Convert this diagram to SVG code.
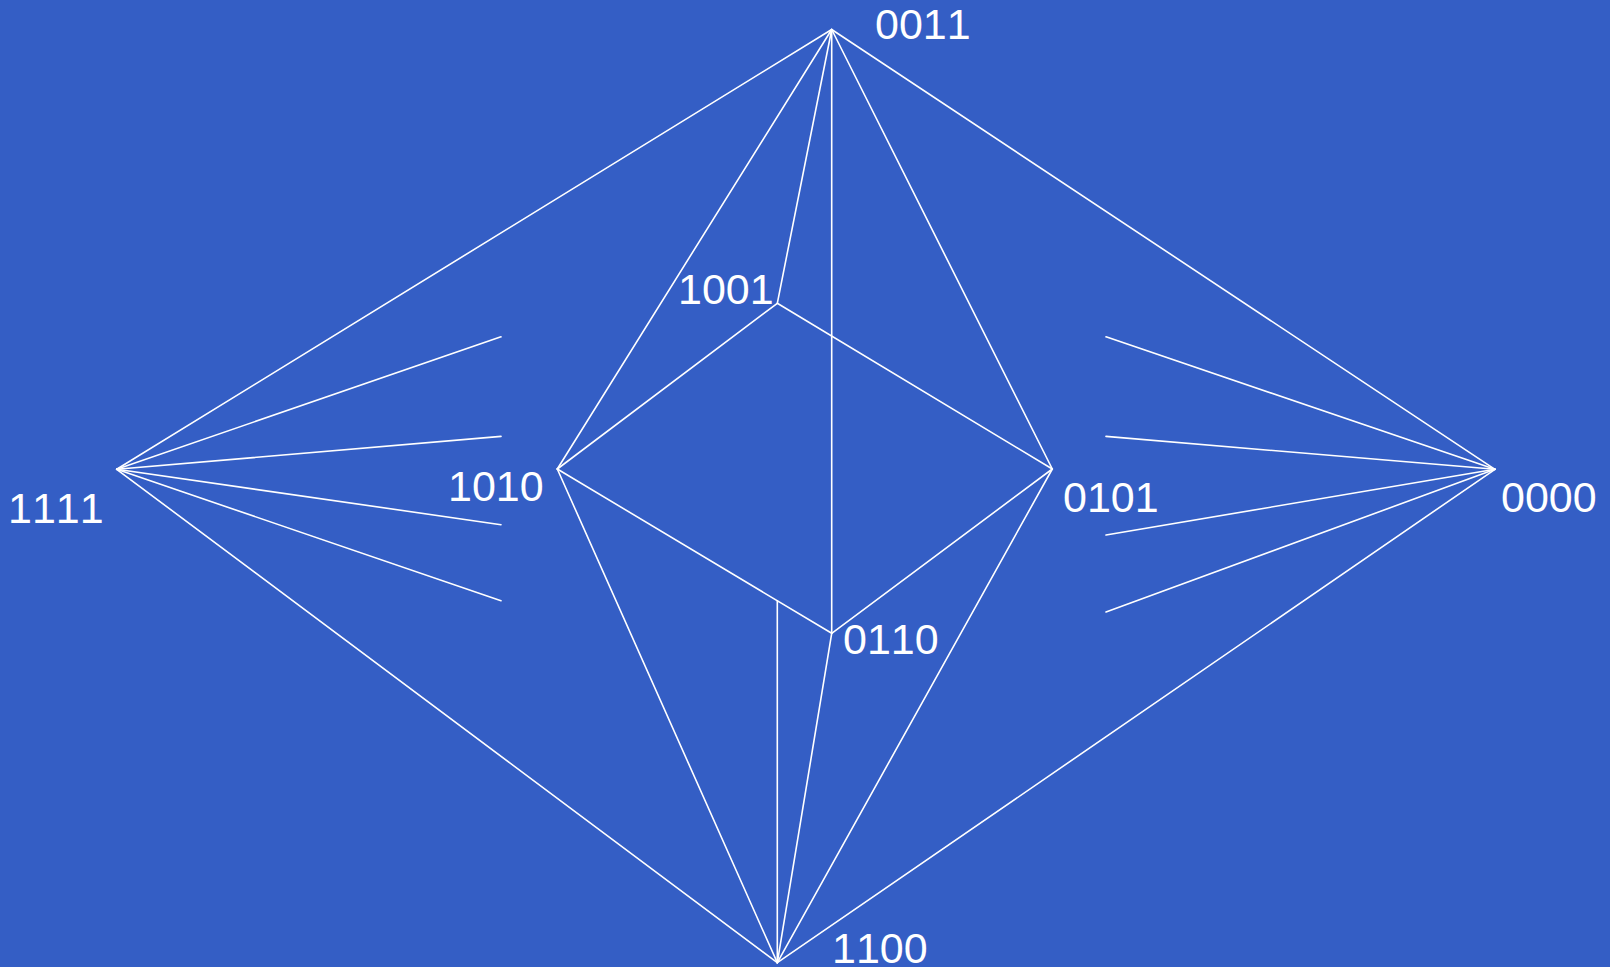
<svg xmlns="http://www.w3.org/2000/svg" width="1610" height="967" viewBox="0 0 1610 967">
<style>
.e{stroke:#ffffff;stroke-width:1.6;fill:none;stroke-linecap:round}
.t{font-family:"Liberation Sans",Arial,sans-serif;font-size:43px;fill:#ffffff;font-kerning:none}
</style>
<rect x="0" y="0" width="1610" height="967" fill="#345EC5"/>
<g id="connectors">
<line class="e" x1="116.7" y1="469.3" x2="831.7" y2="29.5"/>
<line class="e" x1="116.7" y1="469.3" x2="777.3" y2="962.7"/>
<line class="e" x1="116.7" y1="469.3" x2="501" y2="336.8"/>
<line class="e" x1="116.7" y1="469.3" x2="501" y2="436.4"/>
<line class="e" x1="116.7" y1="469.3" x2="501" y2="524.7"/>
<line class="e" x1="116.7" y1="469.3" x2="501" y2="600.7"/>
<line class="e" x1="1495" y1="469.3" x2="831.7" y2="29.5"/>
<line class="e" x1="1495" y1="469.3" x2="777.3" y2="962.7"/>
<line class="e" x1="1495" y1="469.3" x2="1106" y2="336.8"/>
<line class="e" x1="1495" y1="469.3" x2="1106" y2="436.4"/>
<line class="e" x1="1495" y1="469.3" x2="1106" y2="535"/>
<line class="e" x1="1495" y1="469.3" x2="1106" y2="612"/>
<line class="e" x1="831.7" y1="29.5" x2="557.3" y2="469"/>
<line class="e" x1="831.7" y1="29.5" x2="777.3" y2="303.3"/>
<line class="e" x1="831.7" y1="29.5" x2="831.7" y2="633.3"/>
<line class="e" x1="831.7" y1="29.5" x2="1052.3" y2="469"/>
<line class="e" x1="777.3" y1="303.3" x2="557.3" y2="469"/>
<line class="e" x1="777.3" y1="303.3" x2="1052.3" y2="469"/>
<line class="e" x1="557.3" y1="469" x2="831.7" y2="633.3"/>
<line class="e" x1="1052.3" y1="469" x2="831.7" y2="633.3"/>
<line class="e" x1="557.3" y1="469" x2="777.3" y2="962.7"/>
<line class="e" x1="1052.3" y1="469" x2="777.3" y2="962.7"/>
<line class="e" x1="831.7" y1="633.3" x2="777.3" y2="962.7"/>
<line class="e" x1="777.3" y1="600.7" x2="777.3" y2="962.7"/>
</g>
<g id="n0011"><text class="t" x="875" y="39">0011</text></g>
<g id="n1111"><text class="t" x="8" y="522.7">1111</text></g>
<g id="n0000"><text class="t" x="1501" y="511.7">0000</text></g>
<g id="n1100"><text class="t" x="832" y="962.7">1100</text></g>
<g id="n1001"><text class="t" x="678" y="304">1001</text></g>
<g id="n1010"><text class="t" x="448" y="500.7">1010</text></g>
<g id="n0101"><text class="t" x="1063" y="512.3">0101</text></g>
<g id="n0110"><text class="t" x="843" y="654">0110</text></g>
</svg>
